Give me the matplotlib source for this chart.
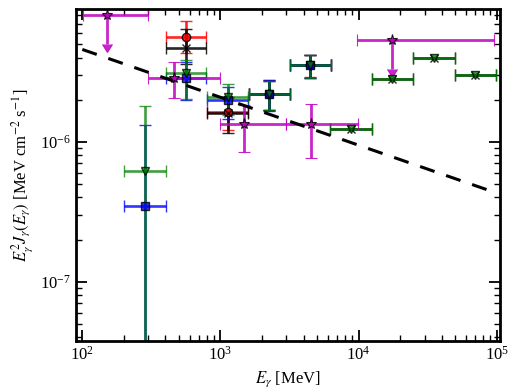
import numpy as np
import matplotlib
matplotlib.use("Agg")
import matplotlib.pyplot as plt
import matplotlib.lines as mlines

plt.rcParams['font.family'] = 'serif'
plt.rcParams['font.serif'] = ['Liberation Serif', 'DejaVu Serif']
plt.rcParams['mathtext.fontset'] = 'stix'

# --- data (energy in MeV, E^2 J in MeV cm^-2 s^-1) ---
red_x = [563, 1125, 2240, 4430]
red_xlo = [402, 800, 1603, 3177]
red_xhi = [783, 1585, 3177, 6280]
red_y = [5.62e-6, 1.64e-6, 2.19e-6, 3.53e-6]
red_ylo = [4.3e-6, 1.21e-6, 1.70e-6, 2.90e-6]
red_yhi = [7.32e-6, 2.05e-6, 2.78e-6, 4.20e-6]

blk_x = [563, 1125, 2240, 4430, 8870, 17580, 34900, 70000]
blk_xlo = [402, 800, 1603, 3177, 6250, 12450, 24800, 49500]
blk_xhi = [783, 1585, 3177, 6280, 12450, 24800, 49500, 98200]
blk_y = [4.65e-6, 1.60e-6, 2.19e-6, 3.53e-6, 1.23e-6, 2.82e-6, 4.00e-6, 2.99e-6]
blk_ylo = [3.6e-6, 1.15e-6, 1.68e-6, 2.88e-6, 1.23e-6, 2.82e-6, 4.00e-6, 2.99e-6]
blk_yhi = [6.35e-6, 2.10e-6, 2.73e-6, 4.16e-6, 1.23e-6, 2.82e-6, 4.00e-6, 2.99e-6]

blu_x = [285, 563, 1125, 2240, 4430]
blu_xlo = [200, 402, 800, 1603, 3177]
blu_xhi = [404, 783, 1585, 3177, 6280]
blu_y = [3.47e-7, 2.84e-6, 1.98e-6, 2.19e-6, 3.53e-6]
blu_ylo = [1e-9, 2.00e-6, 1.46e-6, 1.66e-6, 2.86e-6]
blu_yhi = [1.32e-6, 3.70e-6, 2.45e-6, 2.75e-6, 4.18e-6]

grn_x = [285, 563, 1125, 2240, 4430, 8870, 17580, 34900, 70000]
grn_xlo = [200, 402, 800, 1603, 3177, 6250, 12450, 24800, 49500]
grn_xhi = [404, 783, 1585, 3177, 6280, 12450, 24800, 49500, 98200]
grn_y = [6.18e-7, 3.08e-6, 2.08e-6, 2.19e-6, 3.53e-6, 1.23e-6, 2.82e-6, 4.00e-6, 2.99e-6]
grn_ylo = [1e-9, 2.01e-6, 1.55e-6, 1.68e-6, 2.88e-6, 1.23e-6, 2.82e-6, 4.00e-6, 2.99e-6]
grn_yhi = [1.81e-6, 3.83e-6, 2.58e-6, 2.73e-6, 4.16e-6, 1.23e-6, 2.82e-6, 4.00e-6, 2.99e-6]

mag_x = [151, 459, 1476, 4550, 17580]
mag_xlo = [101, 301, 1000, 2966, 9790]
mag_xhi = [301, 993, 2966, 9910, 95500]
mag_y = [8.04e-6, 2.86e-6, 1.34e-6, 1.34e-6, 5.32e-6]
mag_ylo = [4.99e-6, 2.06e-6, 8.5e-7, 7.61e-7, 3.29e-6]
mag_yhi = [8.04e-6, 3.69e-6, 1.83e-6, 1.86e-6, 5.32e-6]
mag_ul = [True, False, False, False, True]

# power-law model line
model_x = [1e2, 1e5]
model_y = [4.57e-6, 4.3e-7]


def errs(v, lo, hi):
    v, lo, hi = np.array(v), np.array(lo), np.array(hi)
    return [v - lo, hi - v]


fig = plt.figure(figsize=(5.1, 3.92), dpi=100)
ax = fig.add_axes([0.149, 0.130, 0.832, 0.846])

kw = dict(linestyle='none', elinewidth=1.9, capsize=4.5, capthick=1.6,
          markersize=6, markeredgecolor='k', markeredgewidth=1.0)

ax.errorbar(red_x, red_y, xerr=errs(red_x, red_xlo, red_xhi),
            yerr=errs(red_y, red_ylo, red_yhi), fmt='o', color='r',
            ecolor='r', alpha=0.85, **kw)
ax.errorbar(blk_x, blk_y, xerr=errs(blk_x, blk_xlo, blk_xhi),
            yerr=errs(blk_y, blk_ylo, blk_yhi), fmt='x', color='k',
            ecolor='k', alpha=0.85, **kw)
ax.errorbar(blu_x, blu_y, xerr=errs(blu_x, blu_xlo, blu_xhi),
            yerr=errs(blu_y, blu_ylo, blu_yhi), fmt='s', color='b',
            ecolor='b', alpha=0.8, **kw)
ax.errorbar(grn_x, grn_y, xerr=errs(grn_x, grn_xlo, grn_xhi),
            yerr=errs(grn_y, grn_ylo, grn_yhi), fmt='v', color='g',
            ecolor='g', alpha=0.75, **kw)

mag = ax.errorbar(mag_x, mag_y, xerr=errs(mag_x, mag_xlo, mag_xhi),
                  yerr=errs(mag_y, mag_ylo, mag_yhi), uplims=mag_ul,
                  fmt='*', color='m', ecolor='m', alpha=0.85,
                  linestyle='none', elinewidth=2.0, capsize=4.5, capthick=1.6,
                  markersize=8, markeredgecolor='k', markeredgewidth=0.8)
for cl in mag[1]:
    if cl.get_marker() in (mlines.CARETDOWNBASE, mlines.CARETUPBASE):
        cl.set_markersize(7.5)

ax.plot(model_x, model_y, 'k--', lw=2.2, dashes=(5, 4))

ax.set_xscale('log')
ax.set_yscale('log')
ax.set_xlim(90, 1.06e5)
ax.set_ylim(3.77e-8, 8.83e-6)

ax.set_xlabel(r'$E_\gamma$ [MeV]', fontsize=12)
ax.set_ylabel(r'$E_\gamma^2 J_\gamma(E_\gamma)$ [MeV cm$^{-2}$ s$^{-1}$]', fontsize=12)

ax.tick_params(which='both', direction='in', top=True, right=True, labelsize=12)
ax.tick_params(which='major', length=8, width=1.3)
ax.tick_params(which='minor', length=4, width=1.0)
for s in ax.spines.values():
    s.set_linewidth(2)

plt.savefig('out.png', dpi=100)
